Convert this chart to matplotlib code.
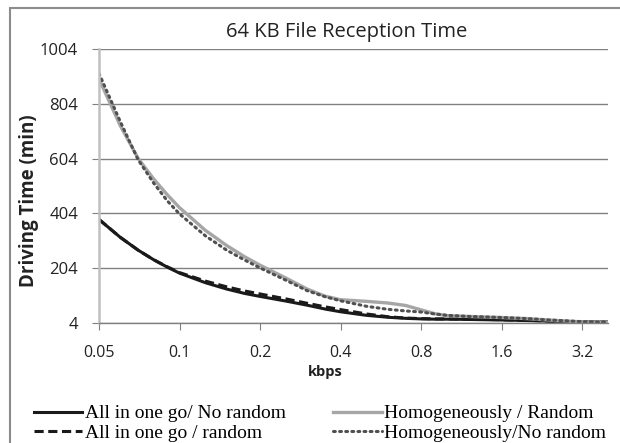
import matplotlib.pyplot as plt
from matplotlib.patches import Rectangle
from matplotlib.ticker import FixedLocator, FixedFormatter, NullLocator

# velocidades (kbps) y tiempos de manejo (min)
kbps = [0.05, 0.06, 0.07, 0.08, 0.09, 0.1, 0.125, 0.15, 0.175, 0.2, 0.25, 0.3,
        0.35, 0.4, 0.5, 0.6, 0.7, 0.8, 0.9, 1.0, 1.2, 1.6, 2.0, 2.4, 3.2, 4.0]

todo_sin_random = [382, 317, 270, 235, 208, 186, 151, 128, 112, 101, 84, 69,
                   55, 45, 32, 25, 21, 19, 18, 18, 17, 15, 13, 11, 8, 7]
todo_random = [382, 317, 270, 235, 209, 188, 157, 136, 121, 110, 92, 76,
               63, 53, 37, 27, 22, 20, 19, 19, 18, 16, 14, 11, 8, 7]
homog_random = [895, 725, 605, 530, 472, 425, 342, 287, 246, 215, 168, 128,
                102, 89, 83, 77, 68, 52, 38, 31, 28, 24, 20, 15, 8, 6]
homog_sin_random = [915, 740, 600, 515, 450, 402, 322, 270, 234, 205, 160, 122,
                    100, 85, 65, 54, 48, 44, 37, 32, 28, 24, 20, 15, 9, 7]

xticks = [0.05, 0.1, 0.2, 0.4, 0.8, 1.6, 3.2]
xtick_labels = ['0.05', '0.1', '0.2', '0.4', '0.8', '1.6', '3.2']
yticks = [4, 204, 404, 604, 804, 1004]

W, H = 620, 443
fig = plt.figure(figsize=(6.2, 4.43), dpi=100)
ax = fig.add_axes([99 / W, 1 - 323 / H, (608 - 99) / W, (323 - 49) / H])

ax.plot(kbps, todo_sin_random, color='#1a1a1a', lw=2.2, label='All in one go/ No random')
ax.plot(kbps, todo_random, color='#1a1a1a', lw=2.2, ls=(0, (3, 1.5)), label='All in one go / random')
ax.plot(kbps, homog_random, color='#a6a6a6', lw=2.4, label='Homogeneously / Random')
ax.plot(kbps, homog_sin_random, color='#505050', lw=2.2, ls=(0, (0.6, 1.4)),
        dash_capstyle='round', label='Homogeneously/No random')

ax.set_xscale('log', base=2)
ax.set_xlim(0.05, 4.0)
ax.set_ylim(4, 1004)
ax.xaxis.set_major_locator(FixedLocator(xticks))
ax.xaxis.set_major_formatter(FixedFormatter(xtick_labels))
ax.xaxis.set_minor_locator(NullLocator())
ax.set_yticks(yticks)

ax.grid(axis='y', color='#808080', lw=1)
ax.set_axisbelow(True)
for s in ['top', 'right']:
    ax.spines[s].set_visible(False)
ax.spines['left'].set_color('#c0c0c0')
ax.spines['left'].set_linewidth(1.8)
ax.spines['bottom'].set_color('#808080')
ax.spines['bottom'].set_linewidth(1)
ax.tick_params(axis='y', length=5, color='#808080', pad=10, labelsize=12)
ax.tick_params(axis='x', length=5, color='#808080', pad=11, labelsize=11.5)
for lab in ax.get_xticklabels() + ax.get_yticklabels():
    lab.set_family('Open Sans')
    lab.set_color('#222222')

# titulo y etiquetas
fig.text(347 / W, 1 - 32 / H, '64 KB File Reception Time', ha='center', va='center',
         fontsize=14.5, family='Open Sans', color='#222222')
fig.text(29 / W, 1 - 201 / H, 'Driving Time (min)', rotation=90, ha='center', va='center',
         fontsize=13.5, fontweight='bold', family='Open Sans', color='#222222')
fig.text(325 / W, 1 - 372 / H, 'kbps', ha='center', va='center',
         fontsize=10.5, fontweight='bold', family='Open Sans', color='#222222')

# leyenda abajo, en dos columnas
fig.legend(loc='upper left', bbox_to_anchor=(24 / W, 1 - 395 / H), ncol=2,
           frameon=False, borderpad=0, handlelength=2.5, handletextpad=0.15,
           columnspacing=2.4, labelspacing=0.1,
           prop={'family': 'Liberation Serif', 'size': 14})

# marco exterior del grafico
fig.patches.append(Rectangle((10 / W, -0.1), 1.0, 1 - 8 / H + 0.1, transform=fig.transFigure,
                             fill=False, edgecolor='#8c8c8c', lw=1.5))

plt.savefig('out.png', dpi=100)
